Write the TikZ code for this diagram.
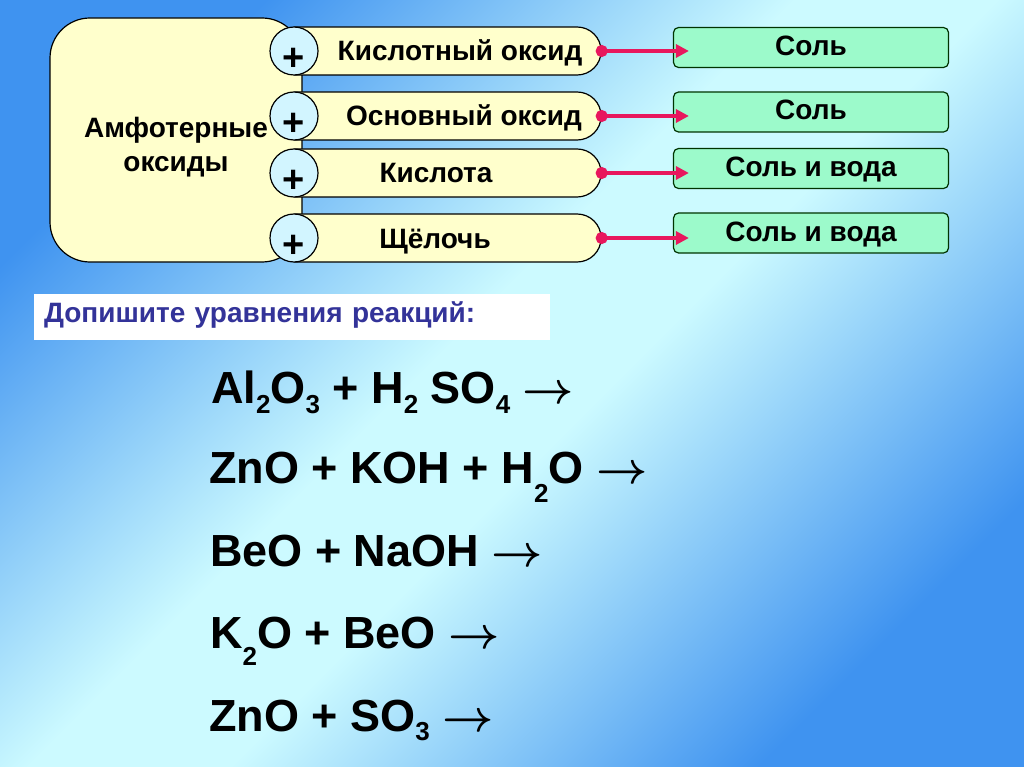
\documentclass[tikz,border=0pt]{standalone}
\usepackage{graphicx}
\usepackage{fontspec}
\setmainfont{Liberation Sans}
\usetikzlibrary{shapes.misc,arrows.meta}
\definecolor{bgblue}{HTML}{3F93F0}
\definecolor{bglight}{HTML}{CCFAFF}
\definecolor{cream}{HTML}{FFFFCC}
\definecolor{circfill}{HTML}{D2F5FF}
\definecolor{mint}{HTML}{9CFACB}
\definecolor{pinkline}{HTML}{E8175D}
\definecolor{navy}{HTML}{333399}
\pgfdeclarehorizontalshading{bgshade}{100bp}{color(0bp)=(bgblue); color(25bp)=(bgblue); color(46bp)=(bglight); color(54bp)=(bglight); color(75bp)=(bgblue); color(100bp)=(bgblue)}
\newcommand\sbs[2]{\raisebox{-#1pt}{\fontsize{26pt}{26pt}\selectfont #2}}
\newcommand\rarr{\scalebox{2.15}{\fontsize{20.74pt}{21pt}\selectfont\boldmath$\rightarrow$}}
\tikzset{
  bigbox/.style={draw=black, line width=1.2pt, fill=cream, rounded corners=40pt,
    minimum width=252pt, minimum height=244pt, inner sep=0pt},
  bigtext/.style={align=center, yshift=-7pt, inner sep=0pt,
    font=\fontsize{28pt}{34pt}\selectfont\bfseries},
  capsule/.style={draw=black, line width=1.2pt, fill=cream, rounded rectangle,
    rounded rectangle west arc=none, minimum width=306pt, minimum height=48pt,
    inner sep=0pt, text height=20pt, text depth=0pt,
    font=\fontsize{28pt}{34pt}\selectfont\bfseries},
  pluscirc/.style={circle, draw=black, line width=1.2pt, fill=circfill,
    minimum size=48pt, inner sep=0pt},
  plussign/.style={font=\fontsize{38pt}{38pt}\selectfont\bfseries, yshift=-8pt, inner sep=0pt},
  resbox/.style={draw=black!80!green, line width=1.2pt, fill=mint, rounded corners=5pt,
    minimum width=275pt, minimum height=40pt, inner sep=0pt,
    text height=20pt, text depth=4pt, font=\fontsize{28pt}{34pt}\selectfont\bfseries},
  pinkarr/.style={draw=pinkline, line width=3.2pt,
    {Circle[length=12pt]}-{Triangle[length=13pt,width=13pt]},
    shorten <=-6pt, shorten >=-16pt},
  hdrbox/.style={fill=white, minimum width=516pt, minimum height=46pt, inner xsep=10pt,
    text width=496pt, align=left, text height=20pt, text depth=10pt, text=navy,
    font=\fontsize{28pt}{34pt}\selectfont\bfseries},
  eqn/.style={anchor=base west, inner sep=0pt, font=\fontsize{45pt}{54pt}\selectfont\bfseries}
}
\begin{document}
\begin{tikzpicture}[x=1pt, y=-1pt]
\useasboundingbox (0,0) rectangle (1024,767);
\shade[shading=bgshade, shading angle=-45] (0,0) rectangle (1024,767);

% left block
\node[bigbox, label={[bigtext]center:Амфотерные\\оксиды}] (amph) at (176,140) {};

% capsules
\node[capsule] (c1) at (447,51) {\hspace*{26pt}Кислотный оксид};
\node[capsule] (c2) at (447,116) {\hspace*{34pt}Основный оксид};
\node[capsule] (c3) at (447,173) {Кислота\hspace*{22pt}};
\node[capsule] (c4) at (447,238) {Щёлочь\hspace*{24pt}};

% plus circles
\node[pluscirc, label={[plussign]center:+}] (p1) at (294,51) {};
\node[pluscirc, label={[plussign]center:+}] (p2) at (294,116) {};
\node[pluscirc, label={[plussign]center:+}] (p3) at (294,173) {};
\node[pluscirc, label={[plussign]center:+}] (p4) at (294,238) {};

% results
\node[resbox] (r1) at (811,47.5) {Соль};
\node[resbox] (r2) at (811,112) {Соль};
\node[resbox] (r3) at (811,168.5) {Соль и вода};
\node[resbox] (r4) at (811,233) {Соль и вода};

% arrows
\draw[pinkarr] (c1.east) -- (c1.east -| r1.west);
\draw[pinkarr] (c2.east) -- (c2.east -| r2.west);
\draw[pinkarr] (c3.east) -- (c3.east -| r3.west);
\draw[pinkarr] (c4.east) -- (c4.east -| r4.west);

% header
\node[hdrbox] (hdr) at (292,317) {Допишите уравнения реакций:};

% equations
\node[eqn] (e1) at (211,403) {Al\sbs{10}{2}O\sbs{10}{3} + H\sbs{10}{2} SO\sbs{10}{4} \rarr};
\node[eqn] (e2) at (209,483) {ZnO + KOH + H\sbs{19}{2}O \rarr};
\node[eqn] (e3) at (210,566) {BeO + NaOH \rarr};
\node[eqn] (e4) at (210,648) {K\sbs{17}{2}O + BeO \rarr};
\node[eqn] (e5) at (209,731) {ZnO + SO\sbs{9}{3} \rarr};
\end{tikzpicture}
\end{document}
